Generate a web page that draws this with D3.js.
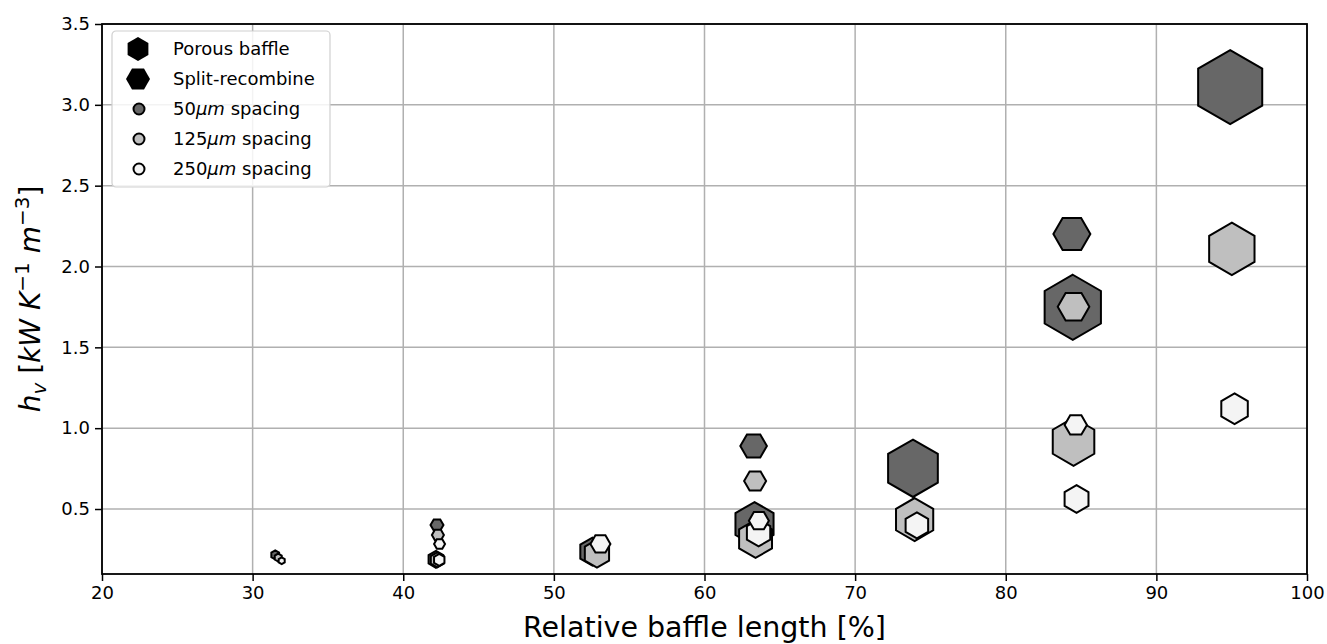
<!DOCTYPE html>
<html>
<head>
<meta charset="utf-8">
<script src="https://cdn.jsdelivr.net/npm/d3@7"></script>
<style>
  body { margin: 0; background: #fff; }
  text { font-family: "DejaVu Sans", sans-serif; }
</style>
</head>
<body>
<svg id="chart" width="1327" height="644"></svg>
<script>
// ---- Data: relative baffle length [%], volumetric heat transfer h_v, marker size (s) ----
// Porous baffle (pointy-top hexagon)
const porous50X  = [31.5, 42.17, 52.56, 63.32, 73.84, 84.45, 94.9];
const porous50Y  = [0.216, 0.189, 0.236, 0.407, 0.752, 1.748, 3.110];
const porous50S  = [20, 72, 196, 484, 824, 1056, 1369];

const porous125X = [31.7, 42.26, 52.86, 63.39, 73.95, 84.5, 95.01];
const porous125Y = [0.200, 0.185, 0.224, 0.315, 0.435, 0.916, 2.109];
const porous125S = [16, 56, 196, 361, 462, 576, 686];

const porous250X = [31.93, 42.39, 63.59, 74.1, 84.7, 95.19];
const porous250Y = [0.180, 0.185, 0.352, 0.399, 0.562, 1.120];
const porous250S = [12, 36, 182, 169, 190, 234];

// Split-recombine (flat-top hexagon)
const split50X  = [42.24, 63.26, 84.39];
const split50Y  = [0.401, 0.890, 2.201];
const split50S  = [42, 177, 342];

const split125X = [42.3, 63.36, 84.5];
const split125Y = [0.339, 0.673, 1.751];
const split125S = [36, 121, 250];

const split250X = [42.41, 53.09, 63.61, 84.65];
const split250Y = [0.284, 0.284, 0.428, 1.020];
const split250S = [30, 100, 100, 125];

const xTicks = [20, 30, 40, 50, 60, 70, 80, 90, 100];
const yTicks = [0.5, 1.0, 1.5, 2.0, 2.5, 3.0, 3.5];

const spacingLabels = ["50", "125", "250"];
const spacingFills  = ["#676767", "#bfbfbf", "#f4f4f4"];

// ---- Layout ----
const svg = d3.select("#chart");
const margin = { left: 102, right: 20, top: 24, bottom: 70 };
const W = 1327, H = 644;
const x = d3.scaleLinear().domain([20, 100]).range([margin.left, W - margin.right]);
const y = d3.scaleLinear().domain([0.098, 3.5]).range([H - margin.bottom, margin.top]);
const size = d3.scaleSqrt().domain([0, 1369]).range([0, 37]);

// grid
const grid = svg.append("g").attr("stroke", "#b0b0b0").attr("stroke-width", 1.5);
xTicks.forEach(t => grid.append("line")
  .attr("x1", x(t)).attr("x2", x(t)).attr("y1", y.range()[0]).attr("y2", y.range()[1]));
yTicks.forEach(t => grid.append("line")
  .attr("x1", x.range()[0]).attr("x2", x.range()[1]).attr("y1", y(t)).attr("y2", y(t)));

// hexagon path generator: pointy = vertex at top, otherwise flat top
function hexPath(r, pointy) {
  const off = pointy ? -90 : 0;
  const pts = d3.range(6).map(k => {
    const a = (off + 60 * k) * Math.PI / 180;
    return [r * Math.cos(a), r * Math.sin(a)];
  });
  return "M" + pts.map(p => p[0].toFixed(2) + "," + p[1].toFixed(2)).join("L") + "Z";
}

svg.append("clipPath").attr("id", "plotclip").append("rect")
  .attr("x", x.range()[0]).attr("y", y.range()[1])
  .attr("width", x.range()[1] - x.range()[0]).attr("height", y.range()[0] - y.range()[1]);

const marks = svg.append("g").attr("clip-path", "url(#plotclip)");

function drawSeries(xs, ys, ss, fill, pointy) {
  const rows = xs.map((v, i) => ({ x: v, y: ys[i], s: ss[i] }));
  marks.append("g").selectAll("path").data(rows).join("path")
    .attr("transform", d => `translate(${x(d.x)},${y(d.y)})`)
    .attr("d", d => hexPath(size(d.s), pointy))
    .attr("fill", fill)
    .attr("stroke", "#000")
    .attr("stroke-width", 2)
    .attr("stroke-linejoin", "miter");
}

drawSeries(porous50X, porous50Y, porous50S, spacingFills[0], true);
drawSeries(porous125X, porous125Y, porous125S, spacingFills[1], true);
drawSeries(porous250X, porous250Y, porous250S, spacingFills[2], true);
drawSeries(split50X, split50Y, split50S, spacingFills[0], false);
drawSeries(split125X, split125Y, split125S, spacingFills[1], false);
drawSeries(split250X, split250Y, split250S, spacingFills[2], false);

// axes
const xAxis = svg.append("g")
  .attr("transform", `translate(0,${y.range()[0]})`)
  .call(d3.axisBottom(x).tickValues(xTicks).tickFormat(d3.format("d")).tickSize(7).tickPadding(5));
const yAxis = svg.append("g")
  .attr("transform", `translate(${x.range()[0]},0)`)
  .call(d3.axisLeft(y).tickValues(yTicks).tickFormat(d3.format(".1f")).tickSize(7).tickPadding(5));
[xAxis, yAxis].forEach(g => {
  g.select(".domain").remove();
  g.selectAll(".tick line").attr("stroke", "#000").attr("stroke-width", 1.5);
  g.selectAll(".tick text").attr("font-size", 18).attr("fill", "#000")
    .attr("font-family", "DejaVu Sans");
});

// frame
svg.append("rect")
  .attr("x", x.range()[0]).attr("y", y.range()[1])
  .attr("width", x.range()[1] - x.range()[0]).attr("height", y.range()[0] - y.range()[1])
  .attr("fill", "none").attr("stroke", "#000").attr("stroke-width", 1.8);

// axis labels
svg.append("text")
  .attr("x", (x.range()[0] + x.range()[1]) / 2).attr("y", 637)
  .attr("text-anchor", "middle").attr("font-size", 28.5)
  .text("Relative baffle length [%]");

const yl = svg.append("text")
  .attr("transform", `translate(40,${(y.range()[0] + y.range()[1]) / 2}) rotate(-90)`)
  .attr("text-anchor", "middle").attr("font-size", 28);
yl.append("tspan").attr("font-style", "italic").text("h");
yl.append("tspan").attr("font-style", "italic").attr("font-size", 20).attr("dy", 6).text("v");
yl.append("tspan").attr("dy", -6).text(" [");
yl.append("tspan").attr("font-style", "italic").text("kW K");
yl.append("tspan").attr("font-size", 20).attr("dy", -11).text("−1");
yl.append("tspan").attr("font-style", "italic").attr("dy", 11).text(" m");
yl.append("tspan").attr("font-size", 20).attr("dy", -11).text("−3");
yl.append("tspan").attr("dy", 11).text("]");

// legend
const lg = svg.append("g").attr("transform", "translate(112,31)");
lg.append("rect").attr("width", 218).attr("height", 156).attr("rx", 4)
  .attr("fill", "#fff").attr("fill-opacity", 0.85)
  .attr("stroke", "#d0d0d0").attr("stroke-width", 1.2);
const legendRows = [
  { label: null, text: "Porous baffle", kind: "hex", pointy: true },
  { label: null, text: "Split-recombine", kind: "hex", pointy: false },
  { label: spacingLabels[0], fill: spacingFills[0], kind: "dot" },
  { label: spacingLabels[1], fill: spacingFills[1], kind: "dot" },
  { label: spacingLabels[2], fill: spacingFills[2], kind: "dot" }
];
legendRows.forEach((r, i) => {
  const cy = 18 + i * 30;
  if (r.kind === "hex") {
    lg.append("path").attr("transform", `translate(26,${cy})`)
      .attr("d", hexPath(12, r.pointy)).attr("fill", "#000");
  } else {
    lg.append("circle").attr("cx", 27).attr("cy", cy).attr("r", 5.5)
      .attr("fill", r.fill).attr("stroke", "#000").attr("stroke-width", 2);
  }
  const t = lg.append("text").attr("x", 61).attr("y", cy).attr("dy", "0.35em")
    .attr("font-size", 18);
  if (r.kind === "hex") {
    t.text(r.text);
  } else {
    t.append("tspan").text(r.label);
    t.append("tspan").attr("font-style", "italic").text("μm");
    t.append("tspan").text(" spacing");
  }
});
</script>
</body>
</html>
